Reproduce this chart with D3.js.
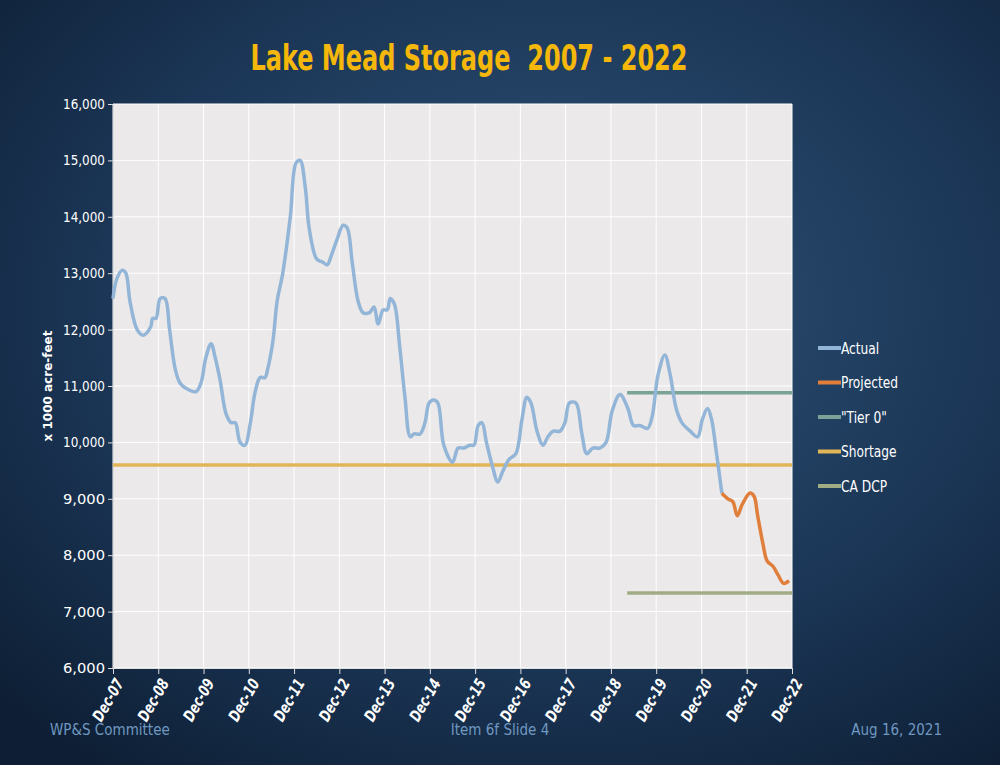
<!DOCTYPE html>
<html><head><meta charset="utf-8">
<script src="https://cdn.jsdelivr.net/npm/d3@7"></script>
<style>body{margin:0;overflow:hidden}svg{display:block}</style>
</head><body>
<svg width="1000" height="765"></svg>
<script>
// months since Dec-07
const actualMonths = [0,1,2.4,3.4,4.5,6.4,8,10,10.5,11.4,12.5,13.8,15,16.5,17.8,19.6,22,23.3,24.6,26,27.1,28.4,30,31.3,32.4,33.7,35,36.3,37.7,39,40.3,41,42.4,43.5,45,47,48.5,49.6,51,52,54,55.5,56.8,57.8,59.4,61,62.1,63.4,65,66.3,68,69.2,70.3,71.6,72.7,73.5,74.6,76,77.4,78.8,79.8,81.4,82.7,83.8,85,86.1,87.7,90,91.5,93.1,94.6,95.7,96.8,97.8,99,100.5,102,103.4,105,106.8,108.4,109.7,110.8,112.4,114,115.3,116.7,118.5,119.8,121,122.7,124.3,125.6,127.2,129,130.7,132.3,134.4,136.5,138,139.7,141.7,142.9,144.5,146.3,147.7,149.3,150.8,153,155,156.2,157.6,158.7,159.8,161.4];
const actualValues = [12550,12900,13050,13000,12500,12000,11900,12050,12200,12200,12550,12550,12000,11300,11050,10950,10900,11050,11500,11750,11500,11100,10500,10350,10350,10000,9950,10300,10900,11150,11150,11300,11800,12500,13000,14000,14950,15000,14500,13800,13250,13200,13150,13300,13600,13850,13800,13200,12500,12300,12300,12400,12100,12350,12350,12550,12450,11700,10800,10100,10150,10150,10350,10700,10750,10700,9950,9650,9900,9900,9950,9950,10300,10350,10000,9600,9300,9500,9700,9800,10400,10800,10700,10200,9950,10100,10200,10200,10350,10700,10700,10150,9800,9900,9900,10000,10550,10850,10600,10300,10300,10250,10450,11200,11550,11200,10600,10350,10200,10100,10400,10600,10400,9900,9100];
const projMonths = [161.4,163,164.3,165.5,166.8,168.8,169.9,170.9,172.3,173.4,175,176.3,177.8,179.2];
const projValues = [9100,9000,8950,8700,8900,9100,9050,8700,8200,7900,7800,7650,7500,7550];
const tier0 = {value: 10880, from: 136.3, to: 180};
const shortage = {value: 9600, from: 0, to: 180};
const caDcp = {value: 7330, from: 136.3, to: 180};
const xTickLabels = ["Dec-07","Dec-08","Dec-09","Dec-10","Dec-11","Dec-12","Dec-13","Dec-14","Dec-15","Dec-16","Dec-17","Dec-18","Dec-19","Dec-20","Dec-21","Dec-22"];
const yTicks = [6000,7000,8000,9000,10000,11000,12000,13000,14000,15000,16000];
const legendItems = [["Actual","#93b6d8"],["Projected","#e07e3c"],["\"Tier 0\"","#7aa395"],["Shortage","#e2b556"],["CA DCP","#a0ad84"]];

const svg = d3.select("svg");
const defs = svg.append("defs");
const bg = defs.append("radialGradient").attr("id","bg").attr("cx","55%").attr("cy","40%").attr("r","75%");
bg.append("stop").attr("offset","0%").attr("stop-color","#2f5478");
bg.append("stop").attr("offset","60%").attr("stop-color","#1b3656");
bg.append("stop").attr("offset","100%").attr("stop-color","#0e1f35");
svg.append("rect").attr("width",1000).attr("height",765).attr("fill","url(#bg)");

const font = "'Liberation Sans Narrow','DejaVu Sans Condensed',sans-serif";

svg.append("text").attr("x",469).attr("y",70).attr("text-anchor","middle")
  .attr("fill","#f5b80a").attr("font-family",font).attr("font-weight","bold").attr("font-size",35)
  .attr("textLength",437).attr("lengthAdjust","spacingAndGlyphs")
  .text("Lake Mead Storage\u00a0\u00a02007 - 2022");

const L = 113, R = 792, T = 104, B = 668;
const x = d3.scaleLinear().domain([0,180]).range([L,R]);
const y = d3.scaleLinear().domain([6000,16000]).range([B,T]);

svg.append("rect").attr("x",L).attr("y",T).attr("width",R-L).attr("height",B-T).attr("fill","#ebe9e9");
const g = svg.append("g");
g.selectAll("line.h").data(yTicks).enter().append("line")
  .attr("x1",L).attr("x2",R).attr("y1",d=>y(d)).attr("y2",d=>y(d)).attr("stroke","#fff").attr("stroke-width",1);
g.selectAll("line.v").data(xTickLabels).enter().append("line")
  .attr("x1",(d,i)=>x(i*12)).attr("x2",(d,i)=>x(i*12)).attr("y1",T).attr("y2",B).attr("stroke","#fff").attr("stroke-width",1);

// axes
const yAxis = svg.append("g").attr("transform",`translate(${L},0)`)
  .call(d3.axisLeft(y).tickValues(yTicks).tickFormat(d3.format(",")).tickSize(5));
yAxis.select(".domain").attr("stroke","#ddd");
yAxis.selectAll("line").attr("stroke","#ddd");
yAxis.selectAll("text").attr("fill","#fff").attr("font-family",font).attr("font-size",14)
  .attr("textLength",42).attr("lengthAdjust","spacingAndGlyphs");

const xAxis = svg.append("g").attr("transform",`translate(0,${B})`)
  .call(d3.axisBottom(x).tickValues(d3.range(0,181,12)).tickFormat((d,i)=>xTickLabels[i]).tickSize(6));
xAxis.select(".domain").attr("stroke","#ddd");
xAxis.selectAll("line").attr("stroke","#ddd");
xAxis.selectAll("text").attr("fill","#fff").attr("font-family",font).attr("font-size",16)
  .attr("font-weight","bold").attr("font-style","italic")
  .attr("textLength",46).attr("lengthAdjust","spacingAndGlyphs")
  .attr("text-anchor","end").attr("y",0).attr("dx",0).attr("dy","0.35em")
  .attr("transform","translate(6,12) rotate(-60)");

svg.append("text").attr("transform",`translate(52,${(T+B)/2}) rotate(-90)`).attr("text-anchor","middle")
  .attr("fill","#fff").attr("font-family","'DejaVu Sans',sans-serif").attr("font-weight","bold").attr("font-size",12)
  .text("x 1000 acre-feet");

// reference lines
[[shortage,"#e2b556"],[tier0,"#7aa395"],[caDcp,"#a0ad84"]].forEach(([r,c])=>{
  svg.append("line").attr("x1",x(r.from)).attr("x2",x(r.to)).attr("y1",y(r.value)).attr("y2",y(r.value))
    .attr("stroke",c).attr("stroke-width",3.5);
});

const line = d3.line().x(d=>x(d[0])).y(d=>y(d[1])).curve(d3.curveCatmullRom);
svg.append("path").datum(d3.zip(actualMonths,actualValues)).attr("d",line)
  .attr("fill","none").attr("stroke","#93b6d8").attr("stroke-width",3.5);
svg.append("path").datum(d3.zip(projMonths,projValues)).attr("d",line)
  .attr("fill","none").attr("stroke","#e07e3c").attr("stroke-width",3.5);

// legend
const lg = svg.selectAll("g.leg").data(legendItems).enter().append("g")
  .attr("transform",(d,i)=>`translate(818,${348+i*34.5})`);
lg.append("line").attr("x1",0).attr("x2",23).attr("stroke",d=>d[1]).attr("stroke-width",4);
lg.append("text").attr("x",23).attr("dy","0.35em").attr("fill","#fff").attr("font-family",font).attr("font-size",16)
  .attr("transform","translate(23,0) scale(0.85,1) translate(-23,0)").text(d=>d[0]);

// footer
const foot = [["WP&S Committee",50,"start"],["Item 6f    Slide 4",500,"middle"],["Aug 16, 2021",942,"end"]];
svg.selectAll("text.f").data(foot).enter().append("text").attr("x",d=>d[1]).attr("y",735).attr("text-anchor",d=>d[2])
  .attr("fill","#6f98c0").attr("font-family",font).attr("font-size",15).text(d=>d[0]);
</script>
</body></html>
